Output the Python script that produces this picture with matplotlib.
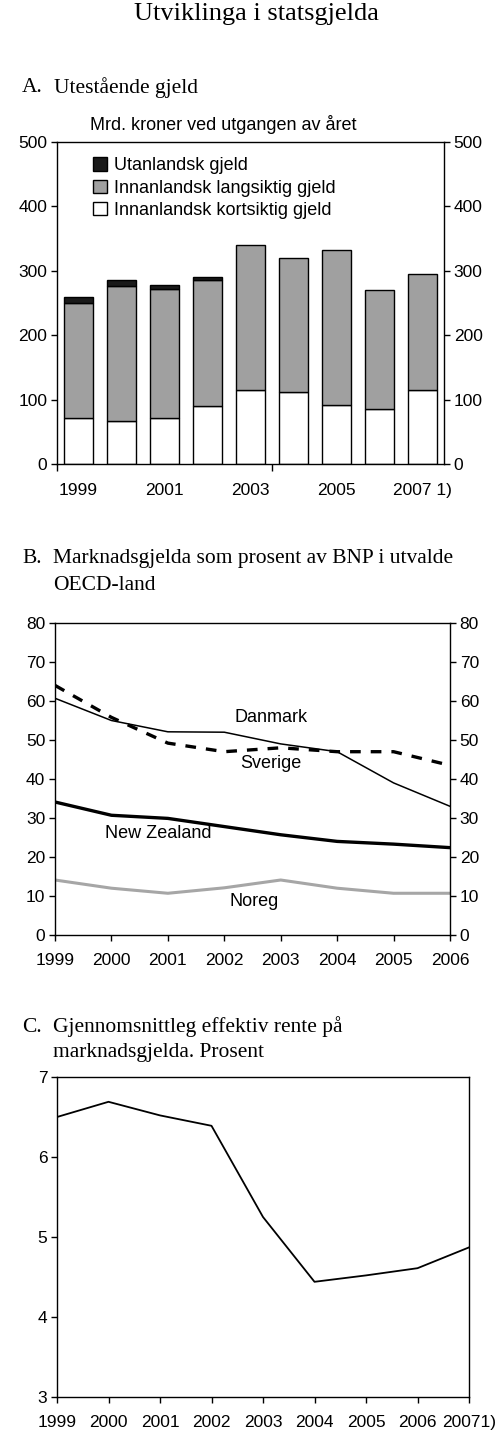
import matplotlib
matplotlib.use("Agg")
import matplotlib.pyplot as plt
from matplotlib.patches import Patch

W, H = 500, 1434

# A. Utestaande gjeld (mrd. kroner)
aar_a = ['1999', '2000', '2001', '2002', '2003', '2004', '2005', '2006', '2007']
aar_a_label = ['1999', '', '2001', '', '2003', '', '2005', '', '2007 1)']
kortsiktig = [72, 67, 72, 90, 115, 112, 92, 85, 115]
langsiktig = [178, 210, 199, 196, 225, 208, 241, 185, 180]
utanlandsk = [10, 9, 7, 5, 0, 0, 0, 0, 0]

# B. Marknadsgjeld i prosent av BNP
aar_b = [1999, 2000, 2001, 2002, 2003, 2004, 2005, 2006]
danmark = [60.7, 55.0, 52.1, 52.0, 49.0, 47.0, 39.0, 33.0]
sverige = [64.0, 55.8, 49.2, 47.0, 48.0, 47.0, 47.0, 43.5]
new_zealand = [34.1, 30.7, 29.9, 27.8, 25.7, 24.0, 23.3, 22.4]
noreg = [14.1, 12.0, 10.7, 12.1, 14.1, 12.0, 10.7, 10.7]

# C. Gjennomsnittleg effektiv rente
aar_c = [1999, 2000, 2001, 2002, 2003, 2004, 2005, 2006, 2007]
aar_c_label = ['1999', '2000', '2001', '2002', '2003', '2004', '2005', '2006', '20071)']
rente = [6.50, 6.69, 6.52, 6.39, 5.25, 4.44, 4.52, 4.61, 4.87]

plt.rcParams['font.family'] = ['Liberation Sans', 'DejaVu Sans']
plt.rcParams['font.size'] = 13

GRA = '#a0a0a0'
TICK = 12.5
SERIF_STR = 15.5

fig = plt.figure(figsize=(W / 100, H / 100), dpi=100)
fig.patch.set_facecolor('white')


def axes_px(l, t, r, b):
    return fig.add_axes([l / W, 1 - b / H, (r - l) / W, (b - t) / H])


def txt(x, y, s, **kw):
    fig.text(x / W, 1 - y / H, s, **kw)


def stil(ax):
    for sp in ax.spines.values():
        sp.set_linewidth(1.0)
    ax.tick_params(direction='out', length=4, width=1, color='black', labelsize=TICK, pad=3)


serif = ['Liberation Serif', 'DejaVu Serif']

txt(256, 14, 'Utviklinga i statsgjelda', family=serif, fontsize=19, ha='center', va='center')

# ---------- A ----------
txt(22, 88, 'A.', family=serif, fontsize=SERIF_STR, va='center')
txt(54, 88, 'Utestående gjeld', family=serif, fontsize=SERIF_STR, va='center')

axA = axes_px(57, 142, 444, 464)
x = list(range(len(aar_a)))
axA.bar(x, kortsiktig, width=0.68, color='white', edgecolor='black', linewidth=1)
axA.bar(x, langsiktig, width=0.68, bottom=kortsiktig, color=GRA, edgecolor='black', linewidth=1)
bunn = [k + l for k, l in zip(kortsiktig, langsiktig)]
for i in x:
    if utanlandsk[i] > 0:
        axA.bar(i, utanlandsk[i], width=0.68, bottom=bunn[i], color='#1a1a1a', edgecolor='black', linewidth=1)
axA.set_xlim(-0.5, 8.5)
axA.set_ylim(0, 500)
axA.set_yticks([0, 100, 200, 300, 400, 500])
axA.set_xticks(x)
axA.set_xticklabels(aar_a_label)
axA.set_xticks([-0.5, 4.5], minor=True)
axA.tick_params(axis='y', right=True, labelright=True)
stil(axA)
axA.tick_params(axis='x', length=0, pad=14)
axA.tick_params(axis='x', which='minor', direction='out', length=5, width=1)
txt(90, 125, 'Mrd. kroner ved utgangen av året', fontsize=13, va='center')

handles = [Patch(facecolor='#1a1a1a', edgecolor='black', label='Utanlandsk gjeld'),
           Patch(facecolor=GRA, edgecolor='black', label='Innanlandsk langsiktig gjeld'),
           Patch(facecolor='white', edgecolor='black', label='Innanlandsk kortsiktig gjeld')]
axA.legend(handles=handles, loc='upper left', bbox_to_anchor=(0.075, 0.975), frameon=False,
           fontsize=13, handlelength=0.75, handleheight=0.75, handletextpad=0.4,
           labelspacing=0.3, borderaxespad=0)

# ---------- B ----------
txt(22, 558, 'B.', family=serif, fontsize=SERIF_STR, va='center')
txt(53, 558, 'Marknadsgjelda som prosent av BNP i utvalde', family=serif, fontsize=SERIF_STR, va='center')
txt(53, 585, 'OECD-land', family=serif, fontsize=SERIF_STR, va='center')

axB = axes_px(55, 623, 450, 935)
axB.plot(aar_b, danmark, color='black', linewidth=1.1)
axB.plot(aar_b, sverige, color='black', linewidth=2.4, linestyle=(0, (3.2, 3.0)))
axB.plot(aar_b, new_zealand, color='black', linewidth=2.4)
axB.plot(aar_b, noreg, color='#a6a6a6', linewidth=2.2)
axB.set_xlim(1999, 2006)
axB.set_ylim(0, 80)
axB.set_xticks(aar_b)
axB.set_yticks(range(0, 81, 10))
axB.tick_params(axis='y', right=True, labelright=True)
stil(axB)
axB.tick_params(axis='x', pad=9)
axB.text(2002.83, 55.7, 'Danmark', ha='center', va='center', fontsize=13)
axB.text(2002.83, 44.1, 'Sverige', ha='center', va='center', fontsize=13)
axB.text(2000.83, 25.9, 'New Zealand', ha='center', va='center', fontsize=13)
axB.text(2002.53, 8.7, 'Noreg', ha='center', va='center', fontsize=13)

# ---------- C ----------
txt(22, 1027, 'C.', family=serif, fontsize=SERIF_STR, va='center')
txt(53, 1027, 'Gjennomsnittleg effektiv rente på', family=serif, fontsize=SERIF_STR, va='center')
txt(53, 1052, 'marknadsgjelda. Prosent', family=serif, fontsize=SERIF_STR, va='center')

axC = axes_px(57, 1077, 469, 1397)
axC.plot(aar_c, rente, color='black', linewidth=1.3)
axC.set_xlim(1999, 2007)
axC.set_ylim(3, 7)
axC.set_xticks(aar_c)
axC.set_xticklabels(aar_c_label)
axC.set_yticks([3, 4, 5, 6, 7])
stil(axC)
axC.tick_params(axis='x', pad=9)

fig.savefig('out.png', dpi=100)
